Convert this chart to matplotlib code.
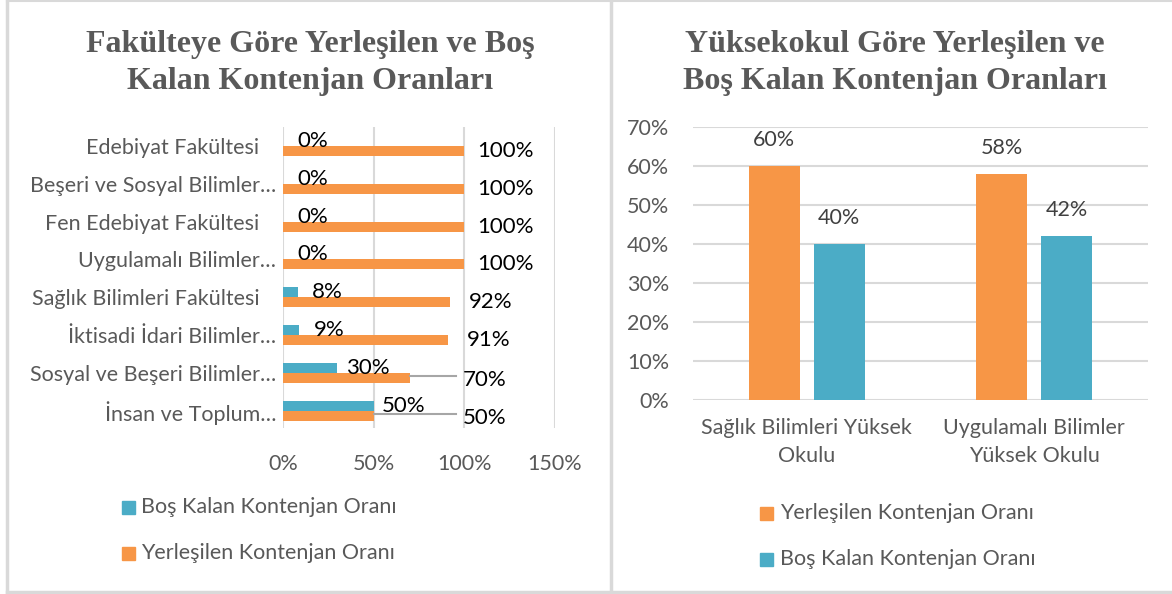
import matplotlib
matplotlib.use("Agg")
import matplotlib.pyplot as plt
from matplotlib.patches import Rectangle
from matplotlib.lines import Line2D

# ---- data ----
faculties = [
    "Edebiyat Fakültesi",
    "Beşeri ve Sosyal Bilimler…",
    "Fen Edebiyat Fakültesi",
    "Uygulamalı Bilimler…",
    "Sağlık Bilimleri Fakültesi",
    "İktisadi İdari Bilimler…",
    "Sosyal ve Beşeri Bilimler…",
    "İnsan ve Toplum…",
]
fac_bos = [0.00, 0.00, 0.00, 0.00, 0.08, 0.09, 0.30, 0.50]
fac_yer = [1.00, 1.00, 1.00, 1.00, 0.92, 0.91, 0.70, 0.50]

schools = ["Sağlık Bilimleri Yüksek\nOkulu", "Uygulamalı Bilimler\nYüksek Okulu"]
sch_yer = [0.60, 0.58]
sch_bos = [0.40, 0.42]

ORANGE = "#F79646"
BLUE = "#4BACC6"
GRAY = "#595959"
GRID = "#D9D9D9"
FONT = "Lato"
TITLE_FONT = "Liberation Serif"
FS = 15.5      # general text size
FS_LAB = 16    # data labels

W, H = 1172, 594
fig = plt.figure(figsize=(W / 100, H / 100), dpi=100)
plt.rcParams["font.family"] = [FONT, "DejaVu Sans"]

def fx(px):
    return px / W

def fy(py):
    return 1 - py / H

# panel borders
for x0 in (7, 611):
    fig.add_artist(Line2D([fx(x0), fx(x0)], [fy(1), fy(592)], color=GRID, lw=2.5))
fig.add_artist(Line2D([fx(7), 1], [fy(592), fy(592)], color=GRID, lw=2.5))
fig.add_artist(Line2D([fx(7), 1], [fy(1), fy(1)], color=GRID, lw=1.5))

# ---- left: horizontal bars ----
ax1 = fig.add_axes([fx(283), fy(428), fx(555) - fx(283), fy(127) - fy(428)])
ys = list(range(len(faculties)))
bh = 0.265
ax1.barh([y - bh / 2 for y in ys], fac_bos, height=bh, color=BLUE, zorder=3)
ax1.barh([y + bh / 2 for y in ys], fac_yer, height=bh, color=ORANGE, zorder=3)
ax1.set_xlim(0, 1.5)
ax1.set_ylim(7.46, -0.5)
ax1.set_xticks([0, 0.5, 1.0, 1.5])
ax1.set_xticklabels(["0%", "50%", "100%", "150%"])
ax1.set_yticks(ys)
ax1.set_yticklabels([f if f.endswith("…") else f + "   " for f in faculties])
ax1.tick_params(axis="both", length=0, labelcolor=GRAY, labelsize=FS)
ax1.tick_params(axis="x", pad=19)
ax1.tick_params(axis="y", pad=5)
ax1.grid(axis="x", color=GRID, lw=1.5, zorder=0)
for s in ax1.spines.values():
    s.set_visible(False)

for y, v in zip(ys, fac_bos):
    ax1.annotate(f"{v:.0%}", xy=(v, y - bh / 2), xytext=(30 * 0.72, 0),
                 textcoords="offset points", ha="center", va="center",
                 fontsize=FS_LAB, color="black", zorder=5)
for y, v in zip(ys, fac_yer):
    if v >= 0.9:
        ax1.annotate(f"{v:.0%}", xy=(v, y + bh / 2), xytext=(41 * 0.72, 0),
                     textcoords="offset points", ha="center", va="center",
                     fontsize=FS_LAB, color="black", zorder=5)
    else:
        ax1.plot([v, 0.955], [y + bh / 2 - 0.05, y + bh / 2 - 0.05], color="#A6A6A6", lw=1.5, zorder=4)
        ax1.text(1.113, y + bh / 2 + 0.07, f"{v:.0%}", ha="center", va="center",
                 fontsize=FS_LAB, color="black", zorder=5)

fig.text(fx(310), fy(63), "Fakülteye Göre Yerleşilen ve Boş\nKalan Kontenjan Oranları",
         ha="center", va="center", fontsize=23, fontweight="bold", color=GRAY,
         family=TITLE_FONT, linespacing=1.32)

leg1 = [(BLUE, "Boş Kalan Kontenjan Oranı", 507), (ORANGE, "Yerleşilen Kontenjan Oranı", 553)]
for c, t, py in leg1:
    fig.add_artist(Rectangle((fx(122), fy(py + 6.5)), fx(13), 13 / H, color=c))
    fig.text(fx(141), fy(py), t, ha="left", va="center", fontsize=FS, color=GRAY)

# ---- right: vertical bars ----
ax2 = fig.add_axes([fx(693), fy(400), fx(1148) - fx(693), fy(127) - fy(400)])
xs = list(range(len(schools)))
bw = 0.225
off = 0.143
ax2.bar([x - off for x in xs], sch_yer, width=bw, color=ORANGE, zorder=3)
ax2.bar([x + off for x in xs], sch_bos, width=bw, color=BLUE, zorder=3)
ax2.set_xlim(-0.5, 1.5)
ax2.set_ylim(0, 0.7)
ax2.set_yticks([i / 10 for i in range(8)])
ax2.set_yticklabels([f"{i * 10}%" for i in range(8)])
ax2.set_xticks(xs)
ax2.set_xticklabels(schools, linespacing=1.5)
ax2.tick_params(axis="both", length=0, labelcolor=GRAY, labelsize=FS)
ax2.tick_params(axis="y", pad=17)
ax2.tick_params(axis="x", pad=13)
ax2.grid(axis="y", color=GRID, lw=1.5, zorder=0)
for s in ax2.spines.values():
    s.set_visible(False)

for x, v in zip(xs, sch_yer):
    ax2.annotate(f"{v:.0%}", xy=(x - off, v), xytext=(0, 26 * 0.72),
                 textcoords="offset points", ha="center", va="center",
                 fontsize=FS, color="#404040")
for x, v in zip(xs, sch_bos):
    ax2.annotate(f"{v:.0%}", xy=(x + off, v), xytext=(0, 26 * 0.72),
                 textcoords="offset points", ha="center", va="center",
                 fontsize=FS, color="#404040")

fig.text(fx(895), fy(63), "Yüksekokul Göre Yerleşilen ve\nBoş Kalan Kontenjan Oranları",
         ha="center", va="center", fontsize=23, fontweight="bold", color=GRAY,
         family=TITLE_FONT, linespacing=1.32)

leg2 = [(ORANGE, "Yerleşilen Kontenjan Oranı", 513), (BLUE, "Boş Kalan Kontenjan Oranı", 559)]
for c, t, py in leg2:
    fig.add_artist(Rectangle((fx(760), fy(py + 6.5)), fx(13), 13 / H, color=c))
    fig.text(fx(780), fy(py), t, ha="left", va="center", fontsize=FS, color=GRAY)

fig.savefig("out.png", dpi=100)
plt.close(fig)
